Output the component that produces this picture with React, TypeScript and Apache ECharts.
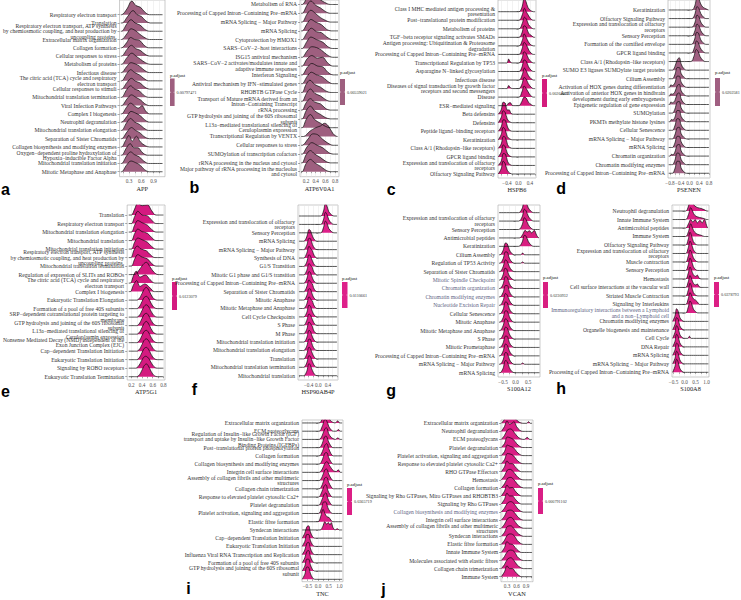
import React, { useEffect, useRef } from "react";
import * as echarts from "echarts";

const SERIF = "'Liberation Serif', 'Times New Roman', serif";
const SANS = "'Liberation Sans', Arial, sans-serif";

const panelLetters = ["a", "b", "c", "d", "e", "f", "g", "h", "i", "j"];
const genes = ["APP", "ATP6V0A1", "HSPB6", "PSENEN", "ATP5G1", "HSP90AB4P", "S100A12", "S100A8", "TNC", "VCAN"];
const padjLabels = ["0.00797471", "0.00559021", "0.00264402", "0.0202581", "0.0123079", "0.0110661", "0.0230932", "0.0378793", "0.0365719", "0.000791102"];
const fills = ["#9e5f7f", "#9e5f7f", "#d41b7c", "#a05f81", "#d41a80", "#de208a", "#d81f80", "#dc1f85", "#dc1f85", "#d91f85"];

const xMajorTicks = [
  [0.3, 0.6, 0.9], [0.2, 0.4, 0.6, 0.8], [-0.4, 0, 0.4], [-0.8, -0.4, 0, 0.4, 0.8], [0.2, 0.4, 0.6, 0.8],
  [-0.4, 0, 0.4], [-0.5, 0, 0.5], [-0.5, 0, 0.5, 1.0], [-0.5, 0, 0.5, 1.0], [0.3, 0.6, 0.9],
];
const xGridTicks = [
  [0.15, 0.3, 0.45, 0.6, 0.75, 0.9, 1.05], [0.1, 0.2, 0.3, 0.4, 0.5, 0.6, 0.7, 0.8], [-0.6, -0.4, -0.2, 0, 0.2, 0.4, 0.6],
  [-0.8, -0.6, -0.4, -0.2, 0, 0.2, 0.4, 0.6, 0.8], [0.2, 0.3, 0.4, 0.5, 0.6, 0.7, 0.8], [-0.8, -0.6, -0.4, -0.2, 0, 0.2, 0.4, 0.6, 0.8],
  [-0.5, -0.25, 0, 0.25, 0.5, 0.75], [-0.5, -0.25, 0, 0.25, 0.5, 0.75, 1.0], [-0.5, -0.25, 0, 0.25, 0.5, 0.75, 1.0],
  [0.15, 0.3, 0.45, 0.6, 0.75, 0.9, 1.05],
];
const xDataRange = [
  [0.1, 1.12], [0.1, 0.86], [-0.7, 0.58], [-0.85, 0.8], [0.15, 0.8],
  [-0.8, 0.78], [-0.66, 0.95], [-0.54, 1.08], [-0.74, 1.13], [0.12, 1.09],
];

const pathwaysA = [
  "Respiratory electron transport", "Translation",
  "Respiratory electron transport, ATP synthesis\nby chemiosmotic coupling, and heat production by\nuncoupling proteins.",
  "Extracellular matrix organization", "Collagen formation", "Cellular responses to stress", "Metabolism of proteins",
  "Infectious disease", "The citric acid (TCA) cycle and respiratory\nelectron transport", "Cellular responses to stimuli",
  "Mitochondrial translation termination", "Viral Infection Pathways", "Complex I biogenesis", "Neutrophil degranulation",
  "Mitochondrial translation elongation", "Separation of Sister Chromatids", "Collagen biosynthesis and modifying enzymes",
  "Oxygen−dependent proline hydroxylation of\nHypoxia−inducible Factor Alpha", "Mitochondrial translation initiation",
  "Mitotic Metaphase and Anaphase",
];
const pathwaysB = [
  "Metabolism of RNA", "Processing of Capped Intron−Containing Pre−mRNA", "mRNA Splicing − Major Pathway", "mRNA Splicing",
  "Cytoprotection by HMOX1", "SARS−CoV−2−host interactions", "ISG15 antiviral mechanism",
  "SARS−CoV−2 activates/modulates innate and\nadaptive immune responses", "Interferon Signaling",
  "Antiviral mechanism by IFN−stimulated genes", "RHOBTB GTPase Cycle",
  "Transport of Mature mRNA derived from an\nIntron−Containing Transcript", "rRNA processing",
  "GTP hydrolysis and joining of the 60S ribosomal\nsubunit", "L13a−mediated translational silencing of\nCeruloplasmin expression",
  "Transcriptional Regulation by VENTX", "Cellular responses to stress", "SUMOylation of transcription cofactors",
  "rRNA processing in the nucleus and cytosol", "Major pathway of rRNA processing in the nucleolus\nand cytosol",
];
const pathwaysC = [
  "Class I MHC mediated antigen processing &\npresentation", "Post−translational protein modification", "Metabolism of proteins",
  "TGF−beta receptor signaling activates SMADs", "Antigen processing: Ubiquitination & Proteasome\ndegradation",
  "Processing of Capped Intron−Containing Pre−mRNA", "Transcriptional Regulation by TP53", "Asparagine N−linked glycosylation",
  "Infectious disease", "Diseases of signal transduction by growth factor\nreceptors and second messengers", "Disease",
  "ESR−mediated signaling", "Beta defensins", "Defensins", "Peptide ligand−binding receptors", "Keratinization",
  "Class A/1 (Rhodopsin−like receptors)", "GPCR ligand binding", "Expression and translocation of olfactory\nreceptors",
  "Olfactory Signaling Pathway",
];
const pathwaysD = [
  "Keratinization", "Olfactory Signaling Pathway", "Expression and translocation of olfactory\nreceptors", "Sensory Perception",
  "Formation of the cornified envelope", "GPCR ligand binding", "Class A/1 (Rhodopsin−like receptors)",
  "SUMO E3 ligases SUMOylate target proteins", "Cilium Assembly", "Activation of HOX genes during differentiation",
  "Activation of anterior HOX genes in hindbrain\ndevelopment during early embryogenesis", "Epigenetic regulation of gene expression",
  "SUMOylation", "PKMTs methylate histone lysines", "Cellular Senescence", "mRNA Splicing − Major Pathway", "mRNA Splicing",
  "Chromatin organization", "Chromatin modifying enzymes", "Processing of Capped Intron−Containing Pre−mRNA",
];
const pathwaysE = [
  "Translation", "Respiratory electron transport", "Mitochondrial translation elongation", "Mitochondrial translation",
  "Mitochondrial translation initiation",
  "Respiratory electron transport, ATP synthesis\nby chemiosmotic coupling, and heat production by\nuncoupling proteins.",
  "Mitochondrial translation termination", "Regulation of expression of SLITs and ROBOs",
  "The citric acid (TCA) cycle and respiratory\nelectron transport", "Complex I biogenesis", "Eukaryotic Translation Elongation",
  "Formation of a pool of free 40S subunits", "SRP−dependent cotranslational protein targeting to\nmembrane",
  "GTP hydrolysis and joining of the 60S ribosomal\nsubunit", "L13a−mediated translational silencing of\nCeruloplasmin expression",
  "Nonsense Mediated Decay (NMD) independent of the\nExon Junction Complex (EJC)", "Cap−dependent Translation Initiation",
  "Eukaryotic Translation Initiation", "Signaling by ROBO receptors", "Eukaryotic Translation Termination",
];
const pathwaysF = [
  "Olfactory Signaling Pathway", "Expression and translocation of olfactory\nreceptors", "Sensory Perception", "mRNA Splicing",
  "mRNA Splicing − Major Pathway", "Synthesis of DNA", "G1/S Transition", "Mitotic G1 phase and G1/S transition",
  "Processing of Capped Intron−Containing Pre−mRNA", "Separation of Sister Chromatids", "Mitotic Anaphase",
  "Mitotic Metaphase and Anaphase", "Cell Cycle Checkpoints", "S Phase", "M Phase", "Mitochondrial translation initiation",
  "Mitochondrial translation elongation", "Translation", "Mitochondrial translation termination", "Mitochondrial translation",
];
const pathwaysG = [
  "Olfactory Signaling Pathway", "Expression and translocation of olfactory\nreceptors", "Sensory Perception",
  "Antimicrobial peptides", "Keratinization", "Cilium Assembly", "Regulation of TP53 Activity", "Separation of Sister Chromatids",
  "Mitotic Spindle Checkpoint", "Chromatin organization", "Chromatin modifying enzymes", "Nucleotide Excision Repair",
  "Cellular Senescence", "Mitotic Anaphase", "Mitotic Metaphase and Anaphase", "S Phase", "Mitotic Prometaphase",
  "Processing of Capped Intron−Containing Pre−mRNA", "mRNA Splicing − Major Pathway", "mRNA Splicing",
];
const pathwaysH = [
  "Neutrophil degranulation", "Innate Immune System", "Antimicrobial peptides", "Immune System", "Olfactory Signaling Pathway",
  "Expression and translocation of olfactory\nreceptors", "Muscle contraction", "Sensory Perception", "Hemostasis",
  "Cell surface interactions at the vascular wall", "Striated Muscle Contraction", "Signaling by Interleukins",
  "Immunoregulatory interactions between a Lymphoid\nand a non−Lymphoid cell", "Chromatin modifying enzymes",
  "Organelle biogenesis and maintenance", "Cell Cycle", "DNA Repair", "mRNA Splicing", "mRNA Splicing − Major Pathway",
  "Processing of Capped Intron−Containing Pre−mRNA",
];
const pathwaysI = [
  "Extracellular matrix organization", "ECM proteoglycans",
  "Regulation of Insulin−like Growth Factor (IGF)\ntransport and uptake by Insulin−like Growth Factor\nBinding Proteins (IGFBPs)",
  "Post−translational protein phosphorylation", "Collagen formation", "Collagen biosynthesis and modifying enzymes",
  "Integrin cell surface interactions", "Assembly of collagen fibrils and other multimeric\nstructures",
  "Collagen chain trimerization", "Response to elevated platelet cytosolic Ca2+", "Platelet degranulation",
  "Platelet activation, signaling and aggregation", "Elastic fibre formation", "Syndecan interactions",
  "Cap−dependent Translation Initiation", "Eukaryotic Translation Initiation",
  "Influenza Viral RNA Transcription and Replication", "Formation of a pool of free 40S subunits",
  "GTP hydrolysis and joining of the 60S ribosomal\nsubunit", "L13a−mediated translational silencing of\nCeruloplasmin expression",
];
const pathwaysJ = [
  "Extracellular matrix organization", "Neutrophil degranulation", "ECM proteoglycans", "Platelet degranulation",
  "Platelet activation, signaling and aggregation", "Response to elevated platelet cytosolic Ca2+", "RHO GTPase Effectors",
  "Hemostasis", "Collagen formation", "Signaling by Rho GTPases, Miro GTPases and RHOBTB3", "Signaling by Rho GTPases",
  "Collagen biosynthesis and modifying enzymes", "Integrin cell surface interactions",
  "Assembly of collagen fibrils and other multimeric\nstructures", "Syndecan interactions", "Elastic fibre formation",
  "Innate Immune System", "Molecules associated with elastic fibres", "Collagen chain trimerization", "Immune System",
];
const dimPathways = [
  [], [], [], [], [], [],
  ["Mitotic Spindle Checkpoint", "Chromatin organization", "Chromatin modifying enzymes", "Nucleotide Excision Repair"],
  ["Immunoregulatory interactions between a Lymphoid\nand a non−Lymphoid cell"],
  [],
  ["Collagen biosynthesis and modifying enzymes"],
];

// ridge knots: [x1, h1, x2, h2, ...], h in row units; top row first
const ridgesA = [
  [0.12, 0, 0.25, 0.7, 0.37, 1.65, 0.47, 1.1, 0.58, 0.9, 0.68, 0.35, 0.8, 0],
  [0.13, 0, 0.27, 0.8, 0.4, 1.5, 0.5, 1.0, 0.6, 0.8, 0.7, 0.3, 0.82, 0],
  [0.12, 0, 0.25, 0.9, 0.35, 1.4, 0.45, 1.0, 0.57, 0.75, 0.68, 0.25, 0.8, 0],
  [0.12, 0, 0.25, 0.7, 0.35, 1.3, 0.45, 1.1, 0.55, 0.7, 0.66, 0.3, 0.8, 0],
  [0.12, 0, 0.24, 0.6, 0.34, 1.25, 0.44, 1.0, 0.56, 0.9, 0.65, 0.4, 0.78, 0],
  [0.12, 0, 0.25, 0.8, 0.36, 1.3, 0.46, 0.9, 0.57, 0.7, 0.67, 0.3, 0.8, 0],
  [0.12, 0, 0.25, 0.8, 0.37, 1.35, 0.47, 1.0, 0.58, 0.6, 0.7, 0.2, 0.82, 0],
  [0.12, 0, 0.24, 0.7, 0.35, 1.2, 0.45, 1.05, 0.55, 0.8, 0.67, 0.3, 0.8, 0],
  [0.12, 0, 0.25, 0.9, 0.34, 1.35, 0.44, 1.0, 0.56, 0.7, 0.66, 0.3, 0.78, 0],
  [0.12, 0, 0.25, 0.8, 0.36, 1.3, 0.46, 0.95, 0.57, 0.75, 0.67, 0.3, 0.8, 0],
  [0.12, 0, 0.24, 0.9, 0.34, 1.4, 0.44, 1.0, 0.55, 0.8, 0.65, 0.3, 0.78, 0],
  [0.12, 0, 0.25, 0.8, 0.36, 1.3, 0.47, 1.0, 0.58, 0.7, 0.68, 0.25, 0.8, 0],
  [0.12, 0, 0.24, 0.8, 0.34, 1.3, 0.45, 0.9, 0.53, 0.7, 0.62, 1.0, 0.7, 0.4, 0.8, 0],
  [0.12, 0, 0.25, 0.7, 0.35, 1.3, 0.46, 1.1, 0.57, 0.8, 0.68, 0.3, 0.8, 0],
  [0.12, 0, 0.24, 0.9, 0.34, 1.45, 0.44, 1.0, 0.55, 0.75, 0.66, 0.3, 0.78, 0],
  [0.12, 0, 0.25, 0.8, 0.36, 1.35, 0.46, 1.0, 0.57, 0.7, 0.67, 0.25, 0.8, 0],
  [0.12, 0, 0.22, 0.8, 0.3, 1.4, 0.38, 0.7, 0.48, 1.3, 0.58, 0.6, 0.7, 0.15, 0.8, 0],
  [0.12, 0, 0.24, 0.9, 0.33, 1.4, 0.42, 0.9, 0.52, 0.9, 0.62, 0.35, 0.75, 0],
  [0.12, 0, 0.24, 0.9, 0.34, 1.4, 0.44, 1.05, 0.55, 0.8, 0.66, 0.3, 0.78, 0],
  [0.12, 0, 0.24, 0.8, 0.35, 1.3, 0.46, 1.1, 0.57, 0.8, 0.68, 0.25, 0.8, 0],
];
const ridgesB = [
  [0.12, 0, 0.22, 0.8, 0.3, 1.6, 0.38, 1.1, 0.48, 0.6, 0.58, 0.25, 0.7, 0],
  [0.12, 0, 0.22, 0.9, 0.3, 1.4, 0.4, 0.9, 0.5, 0.6, 0.6, 0.2, 0.7, 0],
  [0.12, 0, 0.22, 0.9, 0.3, 1.35, 0.4, 0.95, 0.5, 0.5, 0.6, 0.2, 0.7, 0],
  [0.12, 0, 0.22, 0.8, 0.3, 1.3, 0.4, 1.0, 0.52, 0.7, 0.62, 0.2, 0.72, 0],
  [0.12, 0, 0.22, 0.8, 0.31, 1.3, 0.42, 0.9, 0.52, 0.8, 0.63, 0.3, 0.75, 0],
  [0.12, 0, 0.22, 0.8, 0.3, 1.3, 0.42, 1.0, 0.55, 0.7, 0.65, 0.2, 0.75, 0],
  [0.12, 0, 0.22, 0.7, 0.32, 1.2, 0.42, 1.1, 0.52, 0.8, 0.63, 0.3, 0.75, 0],
  [0.12, 0, 0.22, 0.8, 0.32, 1.2, 0.43, 0.9, 0.54, 1.0, 0.64, 0.4, 0.75, 0],
  [0.12, 0, 0.22, 0.8, 0.32, 1.3, 0.44, 1.0, 0.55, 0.9, 0.65, 0.3, 0.76, 0],
  [0.12, 0, 0.22, 0.8, 0.31, 1.3, 0.42, 1.0, 0.53, 0.8, 0.64, 0.3, 0.75, 0],
  [0.12, 0, 0.2, 0.9, 0.28, 1.4, 0.38, 0.9, 0.5, 0.6, 0.6, 0.2, 0.72, 0],
  [0.12, 0, 0.21, 0.9, 0.29, 1.4, 0.38, 0.9, 0.5, 0.6, 0.6, 0.2, 0.7, 0],
  [0.12, 0, 0.2, 0.8, 0.29, 1.3, 0.38, 0.9, 0.5, 0.7, 0.6, 0.2, 0.7, 0],
  [0.12, 0, 0.21, 1.0, 0.29, 1.45, 0.38, 0.9, 0.5, 0.5, 0.6, 0.15, 0.7, 0],
  [0.12, 0, 0.21, 1.0, 0.29, 1.5, 0.38, 0.9, 0.5, 0.5, 0.6, 0.15, 0.7, 0],
  [0.15, 0, 0.28, 0.6, 0.4, 1.0, 0.5, 1.2, 0.58, 1.5, 0.66, 1.2, 0.76, 0.3, 0.85, 0],
  [0.12, 0, 0.24, 0.7, 0.34, 1.3, 0.44, 1.2, 0.54, 0.7, 0.65, 0.25, 0.76, 0],
  [0.12, 0, 0.22, 0.8, 0.32, 1.3, 0.43, 1.0, 0.55, 0.7, 0.66, 0.2, 0.76, 0],
  [0.12, 0, 0.2, 0.9, 0.29, 1.4, 0.38, 1.0, 0.5, 0.6, 0.6, 0.2, 0.7, 0],
  [0.12, 0, 0.2, 0.9, 0.29, 1.4, 0.38, 1.0, 0.5, 0.6, 0.6, 0.2, 0.7, 0],
];
const ridgesC = [
  [0.02, 0, 0.12, 0.5, 0.2, 1.5, 0.26, 1.2, 0.33, 0.5, 0.42, 0.15, 0.52, 0],
  [0.02, 0, 0.13, 0.6, 0.21, 1.4, 0.27, 1.0, 0.34, 0.6, 0.42, 0.2, 0.52, 0],
  [0.02, 0, 0.13, 0.6, 0.21, 1.35, 0.28, 1.1, 0.35, 0.5, 0.44, 0.15, 0.52, 0],
  [0.02, 0, 0.12, 0.5, 0.2, 1.35, 0.27, 1.2, 0.35, 0.5, 0.45, 0.2, 0.55, 0],
  [0.02, 0, 0.13, 0.6, 0.2, 1.4, 0.27, 1.0, 0.34, 0.5, 0.42, 0.15, 0.52, 0],
  [0.02, 0, 0.12, 0.6, 0.2, 1.4, 0.28, 1.1, 0.36, 0.5, 0.44, 0.15, 0.52, 0],
  [-0.4, 0, -0.34, 0.45, -0.28, 0.1, -0.2, 0, 0.02, 0, 0.12, 0.5, 0.2, 1.3, 0.27, 1.1, 0.35, 0.5, 0.44, 0.15, 0.52, 0],
  [0.02, 0, 0.12, 0.5, 0.2, 1.35, 0.27, 1.2, 0.35, 0.55, 0.44, 0.15, 0.52, 0],
  [0.02, 0, 0.13, 0.6, 0.21, 1.4, 0.28, 1.0, 0.35, 0.5, 0.44, 0.15, 0.52, 0],
  [-0.4, 0, -0.34, 0.35, -0.28, 0.1, -0.2, 0, 0.02, 0, 0.12, 0.5, 0.2, 1.3, 0.27, 1.1, 0.34, 0.6, 0.43, 0.2, 0.52, 0],
  [0.02, 0, 0.12, 0.6, 0.2, 1.3, 0.27, 1.0, 0.34, 0.6, 0.42, 0.2, 0.52, 0],
  [-0.42, 0, -0.34, 0.3, -0.28, 0.35, -0.22, 0.05, -0.12, 0, 0.02, 0, 0.12, 0.5, 0.2, 1.0, 0.27, 0.9, 0.35, 0.4, 0.45, 0.1, 0.52, 0],
  [-0.68, 0, -0.6, 0.5, -0.53, 1.4, -0.46, 1.3, -0.39, 0.5, -0.32, 0.5, -0.26, 0.1, -0.18, 0],
  [-0.68, 0, -0.6, 0.6, -0.53, 1.4, -0.46, 1.2, -0.39, 0.45, -0.3, 0.1, -0.2, 0],
  [-0.68, 0, -0.6, 0.5, -0.52, 1.35, -0.45, 1.25, -0.38, 0.5, -0.3, 0.1, -0.2, 0],
  [-0.68, 0, -0.6, 0.6, -0.53, 1.45, -0.46, 1.2, -0.39, 0.4, -0.3, 0.1, -0.2, 0],
  [-0.68, 0, -0.6, 0.5, -0.52, 1.4, -0.45, 1.25, -0.38, 0.45, -0.3, 0.1, -0.2, 0],
  [-0.68, 0, -0.6, 0.55, -0.53, 1.4, -0.46, 1.2, -0.39, 0.45, -0.3, 0.1, -0.2, 0],
  [-0.68, 0, -0.6, 0.5, -0.52, 1.4, -0.45, 1.3, -0.38, 0.5, -0.3, 0.1, -0.2, 0],
  [-0.68, 0, -0.6, 0.6, -0.53, 1.5, -0.46, 1.2, -0.39, 0.45, -0.3, 0.1, -0.2, 0],
];
const ridgesD = [
  [0.1, 0, 0.22, 0.5, 0.31, 1.45, 0.38, 1.3, 0.46, 0.7, 0.56, 0.3, 0.7, 0.1, 0.78, 0],
  [0.1, 0, 0.22, 0.5, 0.31, 1.4, 0.38, 1.2, 0.46, 0.6, 0.56, 0.2, 0.68, 0],
  [0.1, 0, 0.22, 0.5, 0.31, 1.4, 0.38, 1.25, 0.46, 0.6, 0.56, 0.2, 0.68, 0],
  [0.1, 0, 0.22, 0.55, 0.31, 1.35, 0.38, 1.2, 0.46, 0.6, 0.56, 0.2, 0.68, 0],
  [0.08, 0, 0.2, 0.5, 0.3, 1.4, 0.37, 1.3, 0.45, 0.6, 0.55, 0.2, 0.68, 0],
  [0.08, 0, 0.2, 0.6, 0.29, 1.4, 0.36, 1.2, 0.44, 0.6, 0.54, 0.2, 0.66, 0],
  [0.06, 0, 0.18, 0.6, 0.28, 1.4, 0.35, 1.2, 0.43, 0.6, 0.53, 0.2, 0.64, 0],
  [-0.7, 0, -0.6, 0.4, -0.5, 1.2, -0.42, 1.45, -0.34, 0.7, -0.24, 0.2, -0.12, 0],
  [-0.7, 0, -0.6, 0.45, -0.5, 1.3, -0.42, 1.3, -0.34, 0.6, -0.24, 0.2, -0.12, 0],
  [-0.82, 0, -0.76, 0.3, -0.7, 0.2, -0.6, 0.5, -0.5, 1.3, -0.42, 1.3, -0.34, 0.6, -0.24, 0.2, -0.12, 0],
  [-0.82, 0, -0.76, 0.25, -0.7, 0.2, -0.6, 0.45, -0.5, 1.2, -0.42, 1.35, -0.34, 0.6, -0.24, 0.2, -0.12, 0],
  [-0.82, 0, -0.76, 0.3, -0.7, 0.2, -0.6, 0.45, -0.5, 1.25, -0.42, 1.35, -0.34, 0.65, -0.24, 0.2, -0.12, 0],
  [-0.7, 0, -0.6, 0.45, -0.5, 1.3, -0.42, 1.35, -0.34, 0.6, -0.24, 0.2, -0.12, 0],
  [-0.8, 0, -0.74, 0.25, -0.68, 0.2, -0.6, 0.5, -0.5, 1.3, -0.42, 1.3, -0.34, 0.6, -0.24, 0.2, -0.12, 0],
  [-0.7, 0, -0.6, 0.5, -0.5, 1.35, -0.42, 1.3, -0.34, 0.6, -0.24, 0.2, -0.12, 0],
  [-0.7, 0, -0.6, 0.45, -0.5, 1.3, -0.42, 1.35, -0.34, 0.6, -0.24, 0.2, -0.12, 0],
  [-0.7, 0, -0.6, 0.5, -0.5, 1.3, -0.42, 1.3, -0.34, 0.65, -0.24, 0.2, -0.12, 0],
  [-0.8, 0, -0.74, 0.2, -0.68, 0.15, -0.6, 0.45, -0.5, 1.3, -0.42, 1.35, -0.34, 0.6, -0.24, 0.2, -0.12, 0],
  [-0.7, 0, -0.6, 0.5, -0.5, 1.35, -0.42, 1.3, -0.34, 0.6, -0.24, 0.2, -0.12, 0],
  [-0.7, 0, -0.6, 0.5, -0.5, 1.4, -0.42, 1.4, -0.34, 0.6, -0.24, 0.2, -0.12, 0],
];
const ridgesE = [
  [0.2, 0, 0.26, 0.7, 0.32, 1.4, 0.4, 1.1, 0.5, 1.2, 0.58, 0.5, 0.66, 0],
  [0.2, 0, 0.26, 0.8, 0.32, 1.45, 0.4, 1.0, 0.5, 0.9, 0.58, 0.4, 0.66, 0],
  [0.2, 0, 0.26, 0.8, 0.32, 1.35, 0.4, 1.1, 0.5, 0.8, 0.58, 0.3, 0.66, 0],
  [0.2, 0, 0.26, 0.8, 0.32, 1.35, 0.4, 1.05, 0.5, 0.85, 0.58, 0.35, 0.66, 0],
  [0.2, 0, 0.26, 0.8, 0.32, 1.3, 0.4, 1.1, 0.5, 0.8, 0.58, 0.3, 0.66, 0],
  [0.19, 0, 0.25, 0.9, 0.31, 1.35, 0.38, 1.0, 0.48, 0.8, 0.56, 0.3, 0.64, 0],
  [0.2, 0, 0.26, 0.8, 0.32, 1.35, 0.4, 1.05, 0.5, 0.85, 0.58, 0.3, 0.66, 0],
  [0.25, 0, 0.34, 0.5, 0.42, 1.2, 0.48, 1.45, 0.55, 0.9, 0.62, 0.3, 0.7, 0],
  [0.18, 0, 0.24, 0.9, 0.29, 1.4, 0.36, 0.7, 0.46, 0.95, 0.55, 0.4, 0.64, 0],
  [0.18, 0, 0.24, 0.8, 0.3, 1.3, 0.36, 0.6, 0.45, 0.9, 0.54, 0.5, 0.63, 0],
  [0.3, 0, 0.37, 0.4, 0.43, 1.2, 0.48, 1.5, 0.54, 1.0, 0.6, 0.3, 0.68, 0],
  [0.3, 0, 0.37, 0.45, 0.43, 1.25, 0.48, 1.45, 0.54, 1.0, 0.6, 0.3, 0.68, 0],
  [0.3, 0, 0.37, 0.4, 0.43, 1.2, 0.48, 1.45, 0.54, 1.05, 0.6, 0.35, 0.68, 0],
  [0.3, 0, 0.37, 0.45, 0.43, 1.25, 0.48, 1.45, 0.54, 1.0, 0.6, 0.3, 0.68, 0],
  [0.3, 0, 0.37, 0.4, 0.43, 1.2, 0.48, 1.5, 0.54, 1.0, 0.6, 0.3, 0.68, 0],
  [0.3, 0, 0.37, 0.45, 0.43, 1.25, 0.48, 1.45, 0.54, 1.0, 0.6, 0.3, 0.68, 0],
  [0.3, 0, 0.37, 0.4, 0.43, 1.2, 0.48, 1.45, 0.54, 1.05, 0.6, 0.35, 0.68, 0],
  [0.3, 0, 0.37, 0.45, 0.43, 1.25, 0.48, 1.45, 0.54, 1.0, 0.6, 0.3, 0.68, 0],
  [0.28, 0, 0.36, 0.5, 0.42, 1.2, 0.47, 1.4, 0.53, 1.1, 0.6, 0.35, 0.68, 0],
  [0.3, 0, 0.37, 0.4, 0.43, 1.2, 0.48, 1.5, 0.54, 1.0, 0.6, 0.3, 0.68, 0],
];
const ridgesF = [
  [0.1, 0, 0.22, 0.6, 0.3, 1.5, 0.36, 1.2, 0.44, 0.5, 0.55, 0.15, 0.65, 0],
  [0.1, 0, 0.22, 0.6, 0.3, 1.45, 0.36, 1.2, 0.44, 0.55, 0.55, 0.15, 0.65, 0],
  [0.1, 0, 0.22, 0.65, 0.3, 1.4, 0.36, 1.15, 0.44, 0.5, 0.55, 0.15, 0.65, 0],
  [-0.6, 0, -0.48, 0.5, -0.38, 1.4, -0.32, 1.25, -0.24, 0.6, -0.15, 0.15, -0.05, 0],
  [-0.6, 0, -0.48, 0.5, -0.38, 1.35, -0.32, 1.3, -0.24, 0.6, -0.15, 0.15, -0.05, 0],
  [-0.6, 0, -0.48, 0.55, -0.38, 1.4, -0.31, 1.1, -0.25, 0.9, -0.2, 0.5, -0.12, 0.1, -0.04, 0],
  [-0.6, 0, -0.48, 0.5, -0.38, 1.4, -0.32, 1.2, -0.24, 0.65, -0.15, 0.15, -0.05, 0],
  [-0.6, 0, -0.48, 0.5, -0.38, 1.35, -0.31, 1.1, -0.25, 0.9, -0.2, 0.45, -0.12, 0.1, -0.04, 0],
  [-0.6, 0, -0.48, 0.5, -0.38, 1.4, -0.32, 1.25, -0.24, 0.6, -0.15, 0.15, -0.05, 0],
  [-0.6, 0, -0.48, 0.55, -0.38, 1.4, -0.31, 1.1, -0.25, 0.95, -0.2, 0.5, -0.12, 0.1, -0.04, 0],
  [-0.6, 0, -0.48, 0.5, -0.38, 1.35, -0.32, 1.3, -0.24, 0.6, -0.15, 0.15, -0.05, 0],
  [-0.6, 0, -0.48, 0.5, -0.38, 1.4, -0.31, 1.1, -0.25, 0.9, -0.2, 0.5, -0.12, 0.1, -0.04, 0],
  [-0.6, 0, -0.48, 0.5, -0.38, 1.4, -0.32, 1.25, -0.24, 0.6, -0.15, 0.15, -0.05, 0],
  [-0.6, 0, -0.48, 0.55, -0.38, 1.35, -0.32, 1.2, -0.24, 0.65, -0.15, 0.15, -0.05, 0],
  [-0.6, 0, -0.48, 0.5, -0.38, 1.4, -0.31, 1.15, -0.25, 0.9, -0.2, 0.45, -0.12, 0.1, -0.04, 0],
  [-0.6, 0, -0.48, 0.5, -0.38, 1.4, -0.32, 1.25, -0.24, 0.6, -0.15, 0.15, -0.05, 0],
  [-0.6, 0, -0.48, 0.5, -0.38, 1.35, -0.32, 1.3, -0.24, 0.6, -0.15, 0.15, -0.05, 0],
  [-0.6, 0, -0.48, 0.55, -0.38, 1.4, -0.32, 1.2, -0.24, 0.6, -0.15, 0.15, -0.05, 0],
  [-0.6, 0, -0.48, 0.5, -0.38, 1.4, -0.32, 1.25, -0.24, 0.65, -0.15, 0.15, -0.05, 0],
  [-0.6, 0, -0.48, 0.5, -0.38, 1.45, -0.32, 1.2, -0.24, 0.6, -0.15, 0.15, -0.05, 0],
];
const ridgesG = [
  [0.12, 0, 0.26, 0.5, 0.35, 1.45, 0.42, 1.2, 0.5, 0.6, 0.6, 0.2, 0.72, 0],
  [0.12, 0, 0.26, 0.5, 0.35, 1.4, 0.42, 1.2, 0.5, 0.6, 0.6, 0.2, 0.72, 0],
  [0.12, 0, 0.26, 0.55, 0.35, 1.4, 0.42, 1.15, 0.5, 0.6, 0.6, 0.2, 0.72, 0],
  [0.15, 0, 0.28, 0.4, 0.38, 0.9, 0.46, 0.7, 0.55, 0.85, 0.64, 0.6, 0.74, 0.9, 0.84, 0.3, 0.93, 0],
  [0.12, 0, 0.26, 0.5, 0.35, 1.3, 0.42, 1.2, 0.5, 0.6, 0.6, 0.2, 0.72, 0],
  [-0.62, 0, -0.5, 0.5, -0.4, 1.4, -0.33, 1.3, -0.25, 0.6, -0.15, 0.15, -0.05, 0, 0.2, 0, 0.28, 0.2, 0.36, 0],
  [-0.62, 0, -0.5, 0.5, -0.4, 1.35, -0.33, 1.3, -0.25, 0.6, -0.15, 0.15, -0.05, 0, 0.2, 0, 0.28, 0.15, 0.36, 0],
  [-0.62, 0, -0.5, 0.55, -0.4, 1.4, -0.33, 1.2, -0.25, 0.6, -0.15, 0.15, -0.05, 0],
  [-0.62, 0, -0.5, 0.6, -0.42, 1.4, -0.35, 1.3, -0.27, 0.6, -0.15, 0.15, -0.05, 0],
  [-0.62, 0, -0.5, 0.5, -0.4, 1.4, -0.33, 1.3, -0.25, 0.6, -0.15, 0.15, -0.05, 0],
  [-0.62, 0, -0.5, 0.5, -0.4, 1.35, -0.33, 1.35, -0.25, 0.65, -0.15, 0.15, -0.05, 0],
  [-0.62, 0, -0.5, 0.55, -0.4, 1.4, -0.33, 1.2, -0.25, 0.6, -0.15, 0.15, -0.05, 0],
  [-0.62, 0, -0.5, 0.5, -0.4, 1.4, -0.33, 1.3, -0.25, 0.6, -0.15, 0.15, -0.05, 0],
  [-0.62, 0, -0.5, 0.5, -0.4, 1.35, -0.33, 1.3, -0.25, 0.65, -0.15, 0.15, -0.05, 0],
  [-0.62, 0, -0.5, 0.55, -0.4, 1.4, -0.33, 1.25, -0.25, 0.6, -0.15, 0.15, -0.05, 0],
  [-0.62, 0, -0.5, 0.5, -0.4, 1.4, -0.33, 1.3, -0.25, 0.6, -0.15, 0.15, -0.05, 0],
  [-0.62, 0, -0.5, 0.5, -0.4, 1.35, -0.33, 1.3, -0.25, 0.6, -0.15, 0.15, -0.05, 0],
  [-0.62, 0, -0.5, 0.55, -0.4, 1.4, -0.33, 1.25, -0.25, 0.6, -0.15, 0.15, -0.05, 0],
  [-0.62, 0, -0.5, 0.5, -0.4, 1.4, -0.33, 1.3, -0.25, 0.6, -0.15, 0.15, -0.05, 0, 0.2, 0, 0.28, 0.15, 0.36, 0],
  [-0.62, 0, -0.5, 0.5, -0.4, 1.45, -0.33, 1.3, -0.25, 0.6, -0.15, 0.15, -0.05, 0],
];
const ridgesH = [
  [0.05, 0, 0.18, 0.6, 0.28, 1.5, 0.36, 1.0, 0.46, 0.6, 0.6, 0.4, 0.75, 0.3, 0.9, 0.15, 1.02, 0],
  [0.05, 0, 0.18, 0.6, 0.28, 1.4, 0.36, 1.0, 0.46, 0.5, 0.6, 0.3, 0.75, 0.2, 0.9, 0.1, 1.0, 0],
  [0.05, 0, 0.18, 0.5, 0.28, 1.0, 0.38, 0.7, 0.48, 1.0, 0.58, 0.6, 0.7, 0.9, 0.8, 0.6, 0.9, 1.0, 1.0, 0.3, 1.06, 0],
  [0.05, 0, 0.18, 0.6, 0.28, 1.5, 0.36, 1.0, 0.46, 0.5, 0.6, 0.25, 0.75, 0.15, 0.9, 0],
  [0.05, 0, 0.16, 0.6, 0.25, 1.5, 0.32, 1.1, 0.4, 0.4, 0.5, 0.1, 0.6, 0],
  [0.05, 0, 0.16, 0.6, 0.25, 1.45, 0.32, 1.1, 0.4, 0.45, 0.5, 0.1, 0.6, 0],
  [0.05, 0, 0.16, 0.6, 0.25, 1.4, 0.32, 1.1, 0.4, 0.5, 0.5, 0.15, 0.62, 0],
  [0.05, 0, 0.16, 0.6, 0.25, 1.45, 0.32, 1.1, 0.4, 0.45, 0.5, 0.1, 0.6, 0],
  [0.05, 0, 0.16, 0.6, 0.25, 1.4, 0.32, 1.0, 0.4, 0.5, 0.5, 0.3, 0.58, 0.45, 0.66, 0.1, 0.75, 0],
  [0.05, 0, 0.16, 0.6, 0.25, 1.4, 0.32, 1.0, 0.4, 0.5, 0.5, 0.3, 0.58, 0.4, 0.66, 0.1, 0.75, 0],
  [0.05, 0, 0.16, 0.6, 0.25, 1.5, 0.32, 1.1, 0.4, 0.4, 0.5, 0.1, 0.6, 0],
  [0.05, 0, 0.16, 0.6, 0.25, 1.4, 0.33, 1.0, 0.42, 0.6, 0.5, 0.5, 0.58, 0.3, 0.68, 0],
  [0.05, 0, 0.16, 0.6, 0.25, 1.4, 0.32, 1.1, 0.4, 0.45, 0.5, 0.15, 0.6, 0],
  [-0.52, 0, -0.44, 0.6, -0.36, 1.5, -0.29, 1.2, -0.22, 0.5, -0.12, 0.12, -0.02, 0],
  [-0.52, 0, -0.44, 0.6, -0.36, 1.45, -0.29, 1.25, -0.22, 0.5, -0.12, 0.12, -0.02, 0],
  [-0.52, 0, -0.44, 0.65, -0.36, 1.5, -0.29, 1.2, -0.22, 0.5, -0.12, 0.12, -0.02, 0, 0.15, 0, 0.22, 0.25, 0.3, 0],
  [-0.52, 0, -0.44, 0.6, -0.36, 1.5, -0.29, 1.2, -0.22, 0.5, -0.12, 0.12, -0.02, 0],
  [-0.52, 0, -0.44, 0.6, -0.36, 1.45, -0.29, 1.25, -0.22, 0.55, -0.12, 0.12, -0.02, 0],
  [-0.52, 0, -0.44, 0.6, -0.36, 1.5, -0.29, 1.2, -0.22, 0.5, -0.12, 0.12, -0.02, 0],
  [-0.52, 0, -0.44, 0.65, -0.36, 1.55, -0.29, 1.2, -0.22, 0.5, -0.12, 0.12, -0.02, 0],
];
const ridgesI = [
  [0.05, 0, 0.2, 0.5, 0.32, 1.3, 0.4, 1.5, 0.48, 0.8, 0.58, 0.3, 0.68, 0.1, 0.8, 0, 0.92, 0.25, 1.02, 0],
  [0.05, 0, 0.2, 0.6, 0.32, 1.4, 0.4, 1.3, 0.5, 0.6, 0.6, 0.2, 0.72, 0, 0.86, 0, 0.95, 0.2, 1.04, 0],
  [0.05, 0, 0.2, 0.5, 0.32, 1.3, 0.4, 1.4, 0.5, 0.7, 0.6, 0.3, 0.7, 0.1, 0.82, 0, 0.93, 0.2, 1.03, 0],
  [0.05, 0, 0.2, 0.5, 0.3, 1.3, 0.38, 1.4, 0.48, 0.8, 0.58, 0.3, 0.7, 0],
  [0.05, 0, 0.2, 0.5, 0.3, 1.2, 0.4, 1.5, 0.5, 0.9, 0.6, 0.3, 0.72, 0],
  [0.05, 0, 0.2, 0.5, 0.31, 1.3, 0.4, 1.4, 0.5, 0.8, 0.6, 0.3, 0.72, 0],
  [0.05, 0, 0.2, 0.4, 0.32, 1.1, 0.42, 1.3, 0.52, 0.9, 0.62, 0.5, 0.72, 0.2, 0.85, 0.1, 0.95, 0.3, 1.05, 0],
  [0.05, 0, 0.2, 0.5, 0.32, 1.3, 0.4, 1.4, 0.5, 0.8, 0.6, 0.3, 0.72, 0],
  [0.05, 0, 0.2, 0.5, 0.31, 1.3, 0.4, 1.4, 0.5, 0.8, 0.6, 0.3, 0.72, 0],
  [0.02, 0, 0.16, 0.5, 0.28, 1.3, 0.37, 1.5, 0.46, 0.8, 0.56, 0.3, 0.68, 0],
  [0.02, 0, 0.16, 0.5, 0.28, 1.3, 0.37, 1.5, 0.46, 0.8, 0.56, 0.3, 0.68, 0],
  [0.02, 0, 0.16, 0.6, 0.27, 1.4, 0.36, 1.4, 0.46, 0.7, 0.56, 0.25, 0.68, 0],
  [0.0, 0, 0.12, 0.6, 0.24, 1.5, 0.32, 1.0, 0.42, 0.6, 0.52, 0.5, 0.6, 0.2, 0.7, 0],
  [0.1, 0, 0.22, 0.4, 0.32, 1.0, 0.4, 0.7, 0.48, 0.9, 0.56, 0.6, 0.62, 0.9, 0.7, 0.3, 0.8, 0, 0.9, 0.15, 1.0, 0],
  [-0.72, 0, -0.62, 0.6, -0.52, 1.4, -0.44, 1.5, -0.36, 0.8, -0.26, 0.2, -0.14, 0],
  [-0.72, 0, -0.62, 0.6, -0.52, 1.45, -0.44, 1.45, -0.36, 0.75, -0.26, 0.2, -0.14, 0],
  [-0.72, 0, -0.62, 0.55, -0.52, 1.4, -0.44, 1.5, -0.36, 0.8, -0.26, 0.2, -0.14, 0],
  [-0.72, 0, -0.62, 0.6, -0.52, 1.4, -0.44, 1.5, -0.36, 0.8, -0.26, 0.2, -0.14, 0],
  [-0.72, 0, -0.62, 0.6, -0.52, 1.45, -0.44, 1.45, -0.36, 0.8, -0.26, 0.2, -0.14, 0],
  [-0.72, 0, -0.62, 0.6, -0.52, 1.5, -0.44, 1.45, -0.36, 0.75, -0.26, 0.2, -0.14, 0],
];
const ridgesJ = [
  [0.14, 0, 0.22, 0.5, 0.3, 1.3, 0.38, 1.4, 0.48, 1.0, 0.58, 0.5, 0.68, 0.15, 0.8, 0, 0.92, 0, 0.98, 0.2, 1.04, 0],
  [0.14, 0, 0.22, 0.6, 0.3, 1.3, 0.38, 0.9, 0.45, 1.0, 0.52, 1.2, 0.6, 0.6, 0.7, 0.15, 0.8, 0],
  [0.14, 0, 0.22, 0.5, 0.32, 1.2, 0.42, 1.3, 0.52, 0.9, 0.62, 0.4, 0.72, 0.1, 0.84, 0, 0.94, 0.25, 1.02, 0],
  [0.14, 0, 0.22, 0.5, 0.31, 1.3, 0.4, 1.2, 0.5, 1.0, 0.6, 0.5, 0.7, 0.15, 0.8, 0],
  [0.14, 0, 0.22, 0.5, 0.31, 1.3, 0.4, 1.15, 0.5, 1.0, 0.6, 0.5, 0.7, 0.15, 0.8, 0],
  [0.14, 0, 0.22, 0.5, 0.31, 1.25, 0.4, 1.2, 0.5, 1.0, 0.6, 0.5, 0.7, 0.15, 0.8, 0],
  [0.14, 0, 0.22, 0.6, 0.3, 1.35, 0.38, 1.0, 0.47, 1.0, 0.56, 0.6, 0.66, 0.2, 0.76, 0],
  [0.14, 0, 0.22, 0.5, 0.31, 1.2, 0.4, 1.3, 0.5, 1.0, 0.6, 0.5, 0.7, 0.15, 0.8, 0],
  [0.14, 0, 0.22, 0.5, 0.32, 1.2, 0.42, 1.3, 0.52, 1.0, 0.62, 0.5, 0.72, 0.15, 0.82, 0],
  [0.14, 0, 0.22, 0.6, 0.3, 1.35, 0.38, 1.0, 0.47, 1.05, 0.56, 0.6, 0.66, 0.2, 0.76, 0],
  [0.14, 0, 0.22, 0.6, 0.3, 1.35, 0.38, 1.0, 0.47, 1.0, 0.56, 0.6, 0.66, 0.2, 0.76, 0],
  [0.14, 0, 0.22, 0.5, 0.32, 1.15, 0.42, 1.3, 0.52, 1.05, 0.62, 0.5, 0.72, 0.15, 0.82, 0],
  [0.14, 0, 0.22, 0.5, 0.32, 1.2, 0.42, 1.25, 0.52, 1.0, 0.62, 0.5, 0.72, 0.15, 0.82, 0],
  [0.14, 0, 0.22, 0.5, 0.32, 1.2, 0.42, 1.35, 0.52, 1.0, 0.62, 0.45, 0.72, 0.15, 0.82, 0],
  [0.14, 0, 0.22, 0.5, 0.32, 1.25, 0.42, 1.3, 0.52, 0.95, 0.62, 0.45, 0.72, 0.15, 0.82, 0],
  [0.14, 0, 0.22, 0.5, 0.32, 1.2, 0.42, 1.3, 0.52, 1.1, 0.62, 0.5, 0.72, 0.15, 0.82, 0],
  [0.14, 0, 0.22, 0.6, 0.3, 1.35, 0.38, 1.05, 0.47, 1.0, 0.56, 0.6, 0.66, 0.2, 0.76, 0],
  [0.14, 0, 0.22, 0.5, 0.32, 1.15, 0.42, 1.3, 0.52, 1.15, 0.62, 0.5, 0.72, 0.15, 0.82, 0],
  [0.14, 0, 0.22, 0.5, 0.32, 1.2, 0.42, 1.35, 0.52, 1.0, 0.62, 0.45, 0.72, 0.15, 0.82, 0],
  [0.14, 0, 0.22, 0.6, 0.3, 1.35, 0.38, 1.0, 0.47, 1.0, 0.56, 0.6, 0.66, 0.2, 0.76, 0],
];

const allPathways = [pathwaysA, pathwaysB, pathwaysC, pathwaysD, pathwaysE, pathwaysF, pathwaysG, pathwaysH, pathwaysI, pathwaysJ];
const allRidges = [ridgesA, ridgesB, ridgesC, ridgesD, ridgesE, ridgesF, ridgesG, ridgesH, ridgesI, ridgesJ];

// layout (pixels) and axis extents
const panelBoxes = [
  { left: 117, top: 0, width: 48, height: 176.7, xMin: 0.07, xMax: 1.18, yMin: -0.6, yMax: 20.78 },
  { left: 300, top: 0, width: 39, height: 176.7, xMin: 0.076, xMax: 0.88, yMin: -0.57, yMax: 19.51 },
  { left: 498, top: 0, width: 38, height: 178, xMin: -0.71, xMax: 0.61, yMin: -0.47, yMax: 20.37 },
  { left: 668, top: 0, width: 42, height: 178, xMin: -0.88, xMax: 0.84, yMin: -0.55, yMax: 20.16 },
  { left: 122, top: 205, width: 43, height: 175, xMin: 0.12, xMax: 0.83, yMin: -0.39, yMax: 20.18 },
  { left: 298, top: 205, width: 40, height: 175, xMin: -0.84, xMax: 0.82, yMin: -0.51, yMax: 20.31 },
  { left: 498, top: 205, width: 42, height: 172, xMin: -0.7, xMax: 0.97, yMin: -0.51, yMax: 19.91 },
  { left: 672, top: 205, width: 37, height: 172, xMin: -0.57, xMax: 1.11, yMin: -0.55, yMax: 19.71 },
  { left: 302, top: 420, width: 41, height: 161.7, xMin: -0.75, xMax: 1.17, yMin: -0.29, yMax: 19.36 },
  { left: 501, top: 420, width: 32, height: 161.7, xMin: 0.11, xMax: 1.12, yMin: -0.62, yMax: 19.41 },
];
const legendBoxes = [
  { x: 170, titleY: 75, y: 78.5, w: 4.6, h: 27.5 },
  { x: 340, titleY: 72, y: 79, w: 5, h: 26 },
  { x: 542, titleY: 75, y: 79, w: 5, h: 28 },
  { x: 715, titleY: 72, y: 78, w: 5, h: 28 },
  { x: 172, titleY: 278, y: 282, w: 5, h: 28 },
  { x: 342, titleY: 278, y: 282, w: 5.5, h: 26 },
  { x: 543, titleY: 277, y: 282, w: 5, h: 26 },
  { x: 714, titleY: 277, y: 282, w: 5, h: 25 },
  { x: 347, titleY: 484, y: 488, w: 5, h: 27 },
  { x: 538, titleY: 483, y: 488, w: 5, h: 26 },
];
const letterPos = [
  [1, 189.5], [189.5, 187.8], [386.8, 189.5], [556.2, 188.5], [1, 391.2],
  [191.8, 389.5], [386.2, 390.5], [556.2, 388.5], [186.2, 588.5], [381.2, 589.5],
];

const rowIdx = Array.from({ length: 20 }, (_, k) => k);
const fmtX = (v: number) => (Math.abs(v) < 1e-9 ? "0.0" : v.toFixed(1)).replace("-", "−");

function buildOption() {
  const grid: any[] = [];
  const xAxis: any[] = [];
  const yAxis: any[] = [];
  const series: any[] = [];
  const graphic: any[] = [];

  panelBoxes.forEach((b, p) => {
    const labels = allPathways[p];
    const dim = dimPathways[p];
    grid.push({
      left: b.left, top: b.top, width: b.width, height: b.height,
      show: true, borderColor: "#a8a8a8", borderWidth: 0.6, backgroundColor: "#ffffff",
    });
    xAxis.push({
      type: "value", gridIndex: p, min: b.xMin, max: b.xMax,
      axisLine: { show: false },
      axisTick: { show: true, customValues: xGridTicks[p], length: 1.5, lineStyle: { color: "#555", width: 0.5 } },
      axisLabel: { customValues: xMajorTicks[p], formatter: fmtX, fontSize: 5.2, fontFamily: SERIF, color: "#4d4d4d", margin: 2 },
      splitLine: { show: true, lineStyle: { color: "#e4e4e4", width: 0.5 } },
      name: genes[p], nameLocation: "middle", nameGap: 8.5,
      nameTextStyle: { fontSize: 6.3, fontFamily: SERIF, color: "#1a1a1a" },
    });
    yAxis.push({
      type: "value", gridIndex: p, min: b.yMin, max: b.yMax,
      axisLine: { show: false }, splitLine: { show: false },
      axisTick: { show: true, customValues: rowIdx, length: 2, lineStyle: { color: "#555", width: 0.5 } },
      axisLabel: {
        customValues: rowIdx,
        formatter: (v: number) => labels[19 - Math.round(v)],
        color: (v: any) => (dim.indexOf(labels[19 - Math.round(Number(v))]) >= 0 ? "#5e6584" : "#333333"),
        fontSize: 5.6, lineHeight: 5.4, fontFamily: SERIF, margin: 3,
      },
    });
    const [d0, d1] = xDataRange[p];
    allRidges[p].forEach((knots, r) => {
      const base = 19 - r;
      const pts: number[][] = [[d0, base]];
      for (let k = 0; k < knots.length; k += 2) pts.push([knots[k], base + knots[k + 1]]);
      pts.push([d1, base]);
      series.push({
        type: "line", xAxisIndex: p, yAxisIndex: p, data: pts,
        smooth: 0.35, symbol: "none", silent: true, clip: true,
        lineStyle: { color: "#0a0a0a", width: 0.7 },
        areaStyle: { color: fills[p], opacity: 1, origin: base },
      });
    });

    const lg = legendBoxes[p];
    const cy = lg.y + lg.h / 2;
    graphic.push(
      { type: "text", x: lg.x, y: lg.titleY, style: { text: "p.adjust", fontSize: 4.8, fontFamily: SERIF, fill: "#111", verticalAlign: "middle", align: "left" } },
      { type: "rect", shape: { x: lg.x, y: lg.y, width: lg.w, height: lg.h }, style: { fill: fills[p] } },
      { type: "line", shape: { x1: lg.x, y1: cy, x2: lg.x + 1.1, y2: cy }, style: { stroke: "#ffffff", lineWidth: 0.5 } },
      { type: "line", shape: { x1: lg.x + lg.w - 1.1, y1: cy, x2: lg.x + lg.w, y2: cy }, style: { stroke: "#ffffff", lineWidth: 0.5 } },
      { type: "text", x: lg.x + lg.w + 2, y: cy, style: { text: padjLabels[p], fontSize: 4.2, fontFamily: SERIF, fill: "#333", verticalAlign: "middle", align: "left" } },
      { type: "text", x: letterPos[p][0], y: letterPos[p][1], style: { text: panelLetters[p], fontSize: 16, fontWeight: "bold", fontFamily: SANS, fill: "#000", verticalAlign: "middle", align: "left" } },
    );
  });

  return { animation: false, backgroundColor: "#ffffff", grid, xAxis, yAxis, series, graphic };
}

export default function App() {
  const ref = useRef<HTMLDivElement>(null);
  useEffect(() => {
    document.body.style.margin = "0";
    if (!ref.current) return;
    const chart = echarts.init(ref.current, undefined, { renderer: "svg" });
    chart.setOption(buildOption() as any);
    return () => chart.dispose();
  }, []);
  return <div ref={ref} style={{ width: 741, height: 600 }} />;
}
